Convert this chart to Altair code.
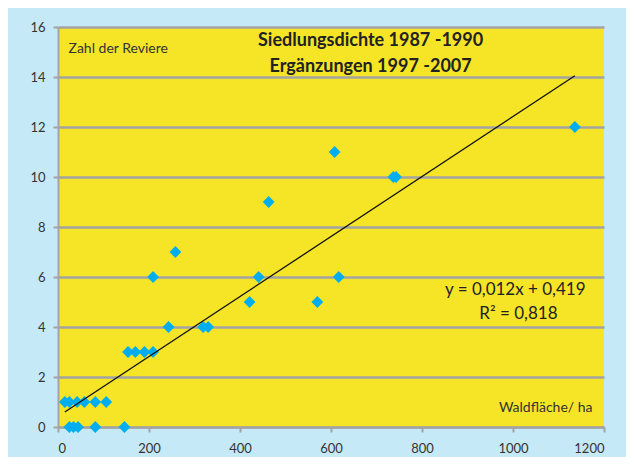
import altair as alt
import pandas as pd

# ---- data ----
waldflaeche = [15, 25, 42, 58, 82, 106,
               25, 34, 44, 82, 146,
               154, 170, 190, 209,
               243, 319, 330,
               421, 570,
               209, 441, 617,
               258, 463, 737, 743, 608, 1136]
reviere = [1, 1, 1, 1, 1, 1,
           0, 0, 0, 0, 0,
           3, 3, 3, 3,
           4, 4, 4,
           5, 5,
           6, 6, 6,
           7, 9, 10, 10, 11, 12]

slope = 0.012
intercept = 0.419
title_lines = ["Siedlungsdichte 1987 -1990", "Ergänzungen 1997 -2007"]
equation_lines = ["y = 0,012x + 0,419", "R² = 0,818"]
x_ticks = [0, 200, 400, 600, 800, 1000, 1200]
y_ticks = [0, 2, 4, 6, 8, 10, 12, 14, 16]

FONT = "Lato"
GRAY = "#A3A3A3"
TXT = "#333333"

df = pd.DataFrame({"x": waldflaeche, "y": reviere})
x_lo, x_hi = min(waldflaeche), max(waldflaeche)
trend = pd.DataFrame({"x": [x_lo, x_hi],
                      "y": [intercept + slope * x_lo, intercept + slope * x_hi]})
titles = pd.DataFrame({"t": title_lines, "x": [687, 687], "y": [15.43, 14.39]})
eq = pd.DataFrame({"t": equation_lines, "x": [1005, 1012], "y": [5.5, 4.52]})

xscale = alt.Scale(domain=[0, 1200], nice=False)
yscale = alt.Scale(domain=[0, 16], nice=False)

xaxis = alt.Axis(values=x_ticks, grid=False, format="d", title="Waldfläche/ ha",
                 titleX=534, titleY=-20, titleAlign="right", titleBaseline="middle",
                 titleAngle=0, titleFont=FONT, titleFontSize=14, titleFontWeight="normal",
                 titleColor=TXT, labelPadding=10)
yaxis = alt.Axis(values=y_ticks, grid=True, format="d", title="Zahl  der Reviere",
                 titleX=10, titleY=21, titleAlign="left", titleBaseline="middle",
                 titleAngle=0, titleFont=FONT, titleFontSize=14, titleFontWeight="normal",
                 titleColor=TXT, labelPadding=8)

points = alt.Chart(df).mark_point(shape="diamond", filled=True, color="#00AEEF",
                                   size=140, opacity=1).encode(
    x=alt.X("x:Q", scale=xscale, axis=xaxis),
    y=alt.Y("y:Q", scale=yscale, axis=yaxis),
)

line = alt.Chart(trend).mark_line(color="#111111", strokeWidth=1.3).encode(
    x=alt.X("x:Q"),
    y=alt.Y("y:Q"),
)

title_text = alt.Chart(titles).mark_text(font=FONT, fontSize=18, fontWeight="bold",
                                          color="#222222", align="center",
                                          baseline="middle").encode(
    x=alt.X("x:Q"),
    y=alt.Y("y:Q"),
    text="t:N",
)

eq_text = alt.Chart(eq).mark_text(font=FONT, fontSize=17, color="#222222",
                                  align="center", baseline="middle").encode(
    x=alt.X("x:Q"),
    y=alt.Y("y:Q"),
    text="t:N",
)

chart = alt.layer(points, line, title_text, eq_text).properties(
    width=546, height=400,
    autosize=alt.AutoSizeParams(type="none"),
    padding={"left": 50, "top": 19, "right": 22, "bottom": 30},
    background="#C6E9F8",
).configure_view(
    fill="#F6E527", stroke=None,
).configure_axis(
    domainColor=GRAY, domainWidth=2,
    gridColor=GRAY, gridWidth=2.5,
    tickColor=GRAY, tickWidth=2, tickSize=5,
    labelFont=FONT, labelFontSize=13, labelColor=TXT,
)

chart.save("out.html", embed_options={"renderer": "svg", "actions": False})
